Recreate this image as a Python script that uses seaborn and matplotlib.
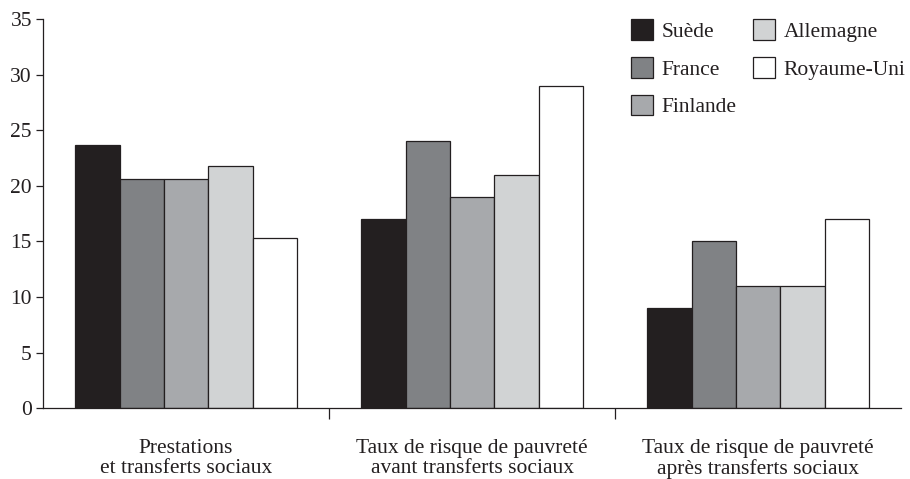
import pandas as pd
import matplotlib.pyplot as plt
import seaborn as sns
from matplotlib.ticker import FixedLocator

# Données
categories = [
    "Prestations\net transferts sociaux",
    "Taux de risque de pauvreté\navant transferts sociaux",
    "Taux de risque de pauvreté\naprès transferts sociaux",
]
pays = ["Suède", "France", "Finlande", "Allemagne", "Royaume-Uni"]
suede = [23.7, 17, 9]
france = [20.6, 24, 15]
finlande = [20.6, 19, 11]
allemagne = [21.8, 21, 11]
royaume_uni = [15.3, 29, 17]
couleurs = ["#231f20", "#808285", "#a7a9ac", "#d1d3d4", "#ffffff"]


def main():
    valeurs = [suede, france, finlande, allemagne, royaume_uni]
    rows = []
    for p, vals in zip(pays, valeurs):
        for c, v in zip(categories, vals):
            rows.append({"categorie": c, "pays": p, "valeur": v})
    df = pd.DataFrame(rows)

    sns.set_style("ticks")
    plt.rcParams["font.family"] = ["Liberation Serif", "DejaVu Serif"]

    fig = plt.figure(figsize=(9.1, 4.79), dpi=100)
    ax = fig.add_axes([0.0473, 0.148, 0.9429, 0.812])

    sns.barplot(data=df, x="categorie", y="valeur", hue="pays",
                hue_order=pays, order=categories, palette=couleurs,
                width=0.775, edgecolor="#231f20", linewidth=0.9,
                saturation=1, ax=ax)

    ax.set_xlim(-0.5, 2.5)
    ax.set_ylim(0, 35)
    ax.set_yticks(range(0, 36, 5))
    ax.set_xlabel("")
    ax.set_ylabel("")
    sns.despine(ax=ax)
    for side in ["left", "bottom"]:
        ax.spines[side].set_linewidth(0.9)
        ax.spines[side].set_color("#231f20")

    ax.tick_params(axis="y", labelsize=15.5, length=5, width=0.9,
                   colors="#231f20", pad=3)
    ax.tick_params(axis="x", which="major", length=0, labelsize=15.5,
                   pad=22, labelcolor="#231f20")
    for lab in ax.get_xticklabels():
        lab.set_linespacing(1.1)
    ax.xaxis.set_minor_locator(FixedLocator([0.5, 1.5]))
    ax.tick_params(axis="x", which="minor", length=8, width=0.9,
                   color="#231f20", direction="out")

    ax.legend(loc="upper right", bbox_to_anchor=(1.005, 1.0), ncol=2,
              frameon=False, fontsize=15.5, handlelength=1.0,
              handleheight=1.1, handletextpad=0.4, labelspacing=0.7,
              columnspacing=0.8, borderpad=0, borderaxespad=0,
              labelcolor="#231f20")

    fig.savefig("out.png", dpi=100)
    plt.close(fig)


if __name__ == "__main__":
    main()
